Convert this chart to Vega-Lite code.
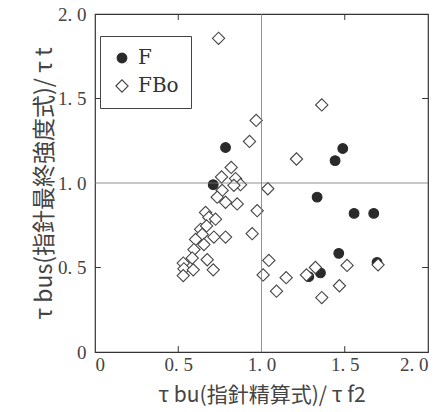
{
  "$schema": "https://vega.github.io/schema/vega-lite/v6.json",
  "width": 333,
  "height": 338,
  "autosize": "none",
  "padding": {"left": 95, "top": 14, "right": 13, "bottom": 60},
  "background": "white",
  "config": {
    "view": {"stroke": "#333", "strokeWidth": 1.2},
    "font": "Noto Sans CJK JP"
  },
  "datasets": {
    "pts": [
      {"x": 0.784, "y": 1.21, "s": "F"},
      {"x": 0.71, "y": 0.99, "s": "F"},
      {"x": 1.488, "y": 1.204, "s": "F"},
      {"x": 1.442, "y": 1.132, "s": "F"},
      {"x": 1.334, "y": 0.916, "s": "F"},
      {"x": 1.556, "y": 0.82, "s": "F"},
      {"x": 1.674, "y": 0.82, "s": "F"},
      {"x": 1.464, "y": 0.584, "s": "F"},
      {"x": 1.354, "y": 0.468, "s": "F"},
      {"x": 1.284, "y": 0.446, "s": "F"},
      {"x": 1.694, "y": 0.53, "s": "F"},
      {"x": 0.742, "y": 1.856, "s": "FBo"},
      {"x": 1.362, "y": 1.462, "s": "FBo"},
      {"x": 0.968, "y": 1.37, "s": "FBo"},
      {"x": 0.928, "y": 1.246, "s": "FBo"},
      {"x": 1.21, "y": 1.142, "s": "FBo"},
      {"x": 0.818, "y": 1.092, "s": "FBo"},
      {"x": 0.76, "y": 1.036, "s": "FBo"},
      {"x": 0.844, "y": 1.026, "s": "FBo"},
      {"x": 0.874, "y": 0.99, "s": "FBo"},
      {"x": 0.834, "y": 0.986, "s": "FBo"},
      {"x": 1.038, "y": 0.966, "s": "FBo"},
      {"x": 0.764, "y": 0.956, "s": "FBo"},
      {"x": 0.734, "y": 0.916, "s": "FBo"},
      {"x": 0.784, "y": 0.886, "s": "FBo"},
      {"x": 0.854, "y": 0.876, "s": "FBo"},
      {"x": 0.974, "y": 0.836, "s": "FBo"},
      {"x": 0.664, "y": 0.826, "s": "FBo"},
      {"x": 0.684, "y": 0.796, "s": "FBo"},
      {"x": 0.724, "y": 0.786, "s": "FBo"},
      {"x": 0.634, "y": 0.726, "s": "FBo"},
      {"x": 0.67, "y": 0.746, "s": "FBo"},
      {"x": 0.644, "y": 0.696, "s": "FBo"},
      {"x": 0.714, "y": 0.68, "s": "FBo"},
      {"x": 0.784, "y": 0.68, "s": "FBo"},
      {"x": 0.944, "y": 0.7, "s": "FBo"},
      {"x": 0.604, "y": 0.666, "s": "FBo"},
      {"x": 0.654, "y": 0.636, "s": "FBo"},
      {"x": 0.594, "y": 0.606, "s": "FBo"},
      {"x": 0.584, "y": 0.556, "s": "FBo"},
      {"x": 0.674, "y": 0.546, "s": "FBo"},
      {"x": 0.53, "y": 0.526, "s": "FBo"},
      {"x": 0.534, "y": 0.492, "s": "FBo"},
      {"x": 0.53, "y": 0.452, "s": "FBo"},
      {"x": 0.59, "y": 0.486, "s": "FBo"},
      {"x": 0.71, "y": 0.486, "s": "FBo"},
      {"x": 1.044, "y": 0.542, "s": "FBo"},
      {"x": 1.01, "y": 0.456, "s": "FBo"},
      {"x": 1.148, "y": 0.44, "s": "FBo"},
      {"x": 1.09, "y": 0.36, "s": "FBo"},
      {"x": 1.27, "y": 0.456, "s": "FBo"},
      {"x": 1.324, "y": 0.5, "s": "FBo"},
      {"x": 1.362, "y": 0.322, "s": "FBo"},
      {"x": 1.468, "y": 0.392, "s": "FBo"},
      {"x": 1.514, "y": 0.512, "s": "FBo"},
      {"x": 1.7, "y": 0.516, "s": "FBo"}
    ],
    "grid": [{"v": 1}],
    "xticks": [{"t": 0.5}, {"t": 1.5}],
    "yticks": [{"t": 0.5}, {"t": 1.5}]
  },
  "layer": [
    {
      "data": {"name": "pts"},
      "mark": {"type": "point", "filled": true, "opacity": 1, "strokeWidth": 1.1},
      "encoding": {
        "x": {
          "field": "x", "type": "quantitative",
          "scale": {"domain": [0, 2], "nice": false},
          "axis": {
            "values": [0, 0.5, 1, 1.5, 2],
            "labelExpr": "datum.value == 0 ? '0' : replace(format(datum.value, '.1f'), '.', '. ')",
            "grid": false, "domain": false, "ticks": false,
            "labelPadding": 3, "labelFont": "Liberation Sans Narrow", "labelFontSize": 19, "labelColor": "#444",
            "labelFlush": true, "labelOverlap": false,
            "title": "τ bu(指針精算式)/ τ f2",
            "titleFont": "Noto Sans CJK JP", "titleFontSize": 21, "titleFontWeight": "normal", "titleColor": "#444",
            "titlePadding": 10
          }
        },
        "y": {
          "field": "y", "type": "quantitative",
          "scale": {"domain": [0, 2], "nice": false},
          "axis": {
            "values": [0, 0.5, 1, 1.5, 2],
            "labelExpr": "datum.value == 0 ? '0' : replace(format(datum.value, '.1f'), '.', '. ')",
            "grid": false, "domain": false, "ticks": false,
            "labelPadding": 9, "labelFont": "Liberation Sans Narrow", "labelFontSize": 19, "labelColor": "#444",
            "labelFlush": false, "labelOverlap": false,
            "title": "τ bus(指針最終強度式)/ τ t",
            "titleFont": "Noto Sans CJK JP", "titleFontSize": 23, "titleFontWeight": "normal", "titleColor": "#444",
            "titlePadding": 1
          }
        },
        "shape": {
          "field": "s", "type": "nominal",
          "scale": {"domain": ["F", "FBo"], "range": ["circle", "diamond"]},
          "legend": {
            "title": null, "orient": "none", "legendX": 5, "legendY": 22,
            "strokeColor": "#444", "padding": 12,
            "labelFont": "DejaVu Serif", "labelFontSize": 20, "labelColor": "#333", "labelOffset": 6,
            "symbolStrokeWidth": 1.1, "rowPadding": 8
          }
        },
        "size": {
          "field": "s", "type": "nominal",
          "scale": {"domain": ["F", "FBo"], "range": [95, 150]}
        },
        "fill": {
          "field": "s", "type": "nominal",
          "scale": {"domain": ["F", "FBo"], "range": ["#2a2a2a", "white"]}
        },
        "stroke": {
          "field": "s", "type": "nominal",
          "scale": {"domain": ["F", "FBo"], "range": ["#2a2a2a", "#444"]}
        },
        "order": {"field": "s", "sort": "ascending"}
      }
    },
    {
      "data": {"name": "grid"},
      "mark": {"type": "rule", "stroke": "#777", "strokeWidth": 0.8},
      "encoding": {"x": {"field": "v", "type": "quantitative"}}
    },
    {
      "data": {"name": "grid"},
      "mark": {"type": "rule", "stroke": "#777", "strokeWidth": 0.8},
      "encoding": {"y": {"field": "v", "type": "quantitative"}}
    },
    {
      "data": {"name": "xticks"},
      "mark": {"type": "rule", "stroke": "#333", "strokeWidth": 1},
      "encoding": {
        "x": {"field": "t", "type": "quantitative"},
        "y": {"datum": 0, "type": "quantitative"},
        "y2": {"datum": 0.035}
      }
    },
    {
      "data": {"name": "xticks"},
      "mark": {"type": "rule", "stroke": "#333", "strokeWidth": 1},
      "encoding": {
        "x": {"field": "t", "type": "quantitative"},
        "y": {"datum": 2, "type": "quantitative"},
        "y2": {"datum": 1.965}
      }
    },
    {
      "data": {"name": "yticks"},
      "mark": {"type": "rule", "stroke": "#333", "strokeWidth": 1},
      "encoding": {
        "y": {"field": "t", "type": "quantitative"},
        "x": {"datum": 0, "type": "quantitative"},
        "x2": {"datum": 0.035}
      }
    },
    {
      "data": {"name": "yticks"},
      "mark": {"type": "rule", "stroke": "#333", "strokeWidth": 1},
      "encoding": {
        "y": {"field": "t", "type": "quantitative"},
        "x": {"datum": 2, "type": "quantitative"},
        "x2": {"datum": 1.965}
      }
    }
  ]
}
